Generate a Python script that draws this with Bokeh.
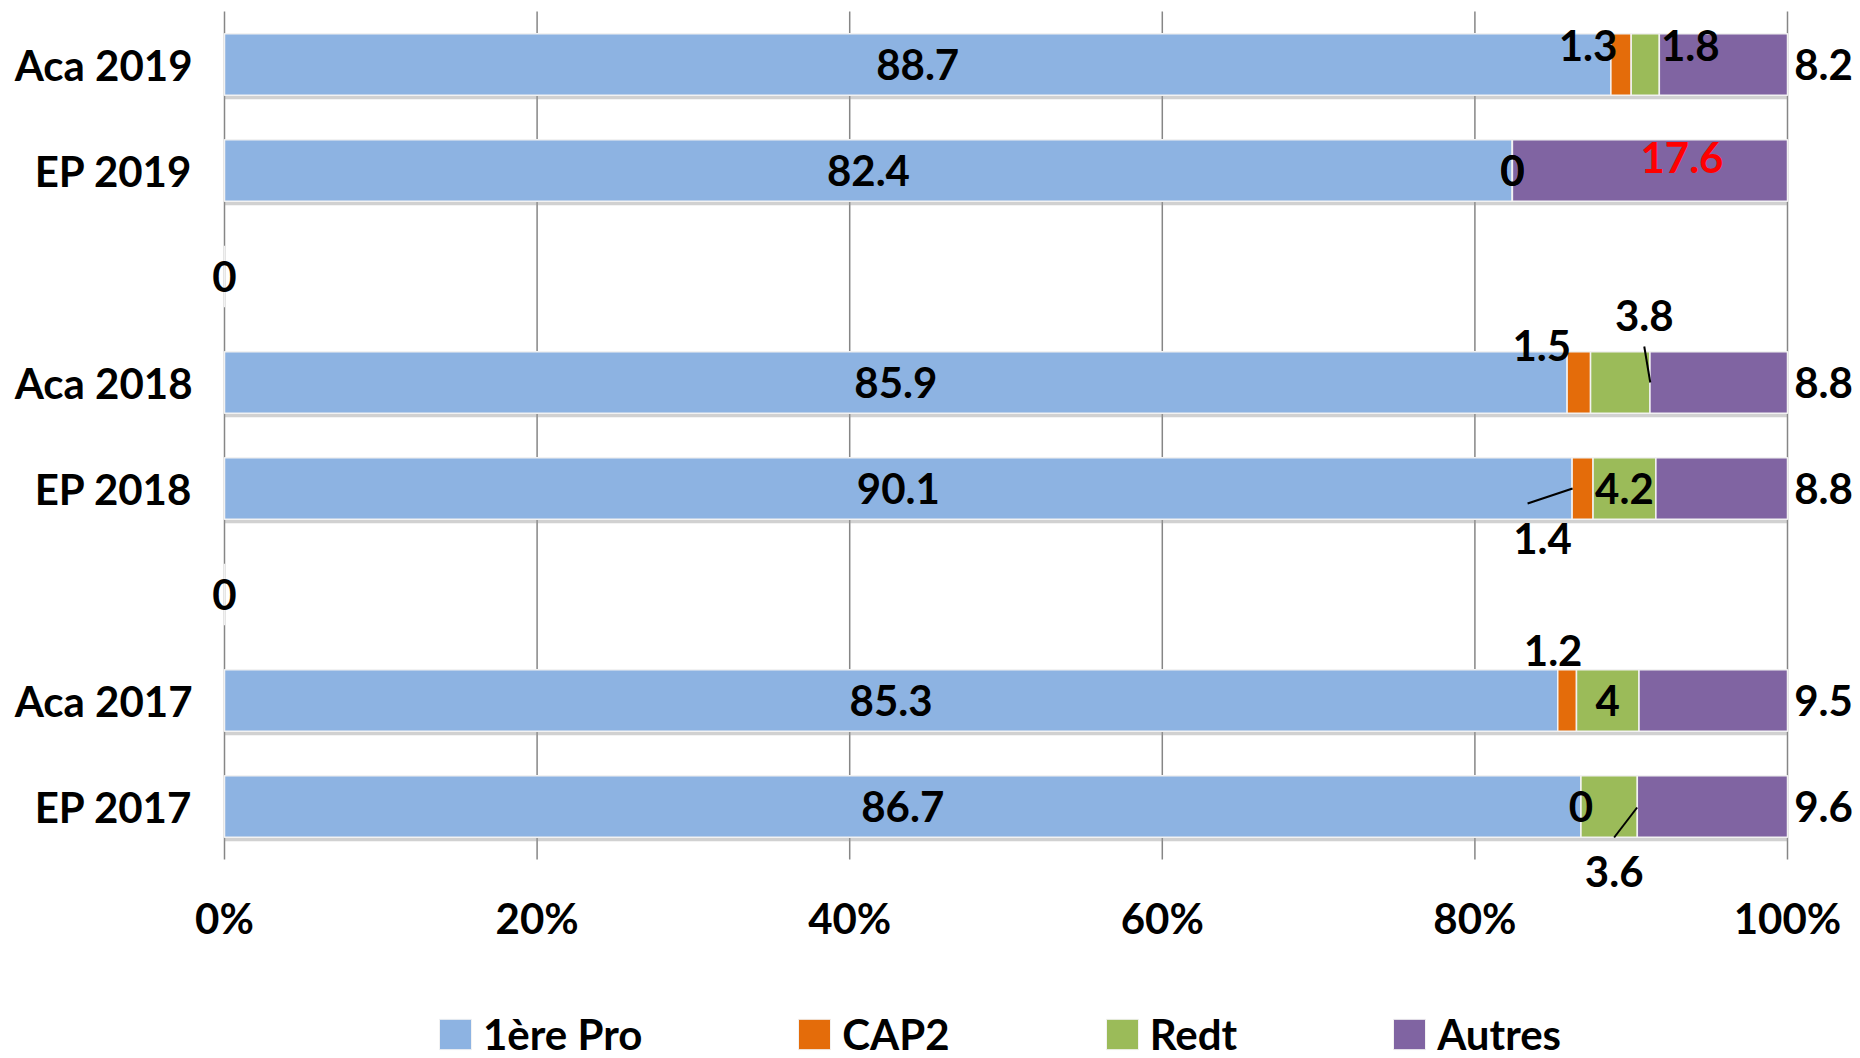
from bokeh.plotting import figure
from bokeh.models import (ColumnDataSource, Range1d, FixedTicker, PrintfTickFormatter,
                          Legend, LegendItem)
from bokeh.layouts import column
from bokeh.core.properties import value
from bokeh.embed import file_html
from bokeh.resources import INLINE

# ---------------- data (top row first) ----------------
categories = ["Aca 2019", "EP 2019", "", "Aca 2018", "EP 2018", "", "Aca 2017", "EP 2017"]
pro    = [88.7, 82.4, 0.0, 85.9, 90.1, 0.0, 85.3, 86.7]
cap2   = [1.3, 0.0, None, 1.5, 1.4, None, 1.2, 0.0]
redt   = [1.8, 0.0, None, 3.8, 4.2, None, 4.0, 3.6]
autres = [8.2, 17.6, None, 8.8, 8.8, None, 9.5, 9.6]
series_names = ["1ère Pro", "CAP2", "Redt", "Autres"]
x_ticks = [0, 20, 40, 60, 80, 100]

# ---------------- style / layout ----------------
colors = ["#8DB3E2", "#E46C0A", "#9BBB59", "#8064A2"]
FONT = "Lato"
FS = "42px"
W = 1860
H1, H2 = 948, 110
FRAME_L, FRAME_T, FRAME_B = 200, 0, 888          # frame edges in page pixels
X0_PX, X100_PX = 224, 1787                       # where 0% and 100% sit
PLOT_TOP, PLOT_BOT = 11, 859                     # extent of the category band
LEGEND_X, LEGEND_Y = 435, -1                     # legend bottom-left (page x, strip-bottom y)
n = len(categories)
PX_X = (X100_PX - X0_PX) / 100.0
PX_Y = (PLOT_BOT - PLOT_TOP) / n
BAR_H = 0.58

# label offsets in pixels: (series index, row index) -> (dx, dy) ; dy positive = down
label_offsets = {
    (1, 0): (-33, -19), (2, 0): (45, -19),
    (3, 1): (32, -13),
    (1, 3): (-37, -37), (2, 3): (24, -67),
    (1, 4): (-40, 50),
    (1, 6): (-14, -50),
    (2, 7): (5, 65),
}
# leader lines: (series, row) -> ((dx0, dy0), (dx1, dy1)) relative to segment centre
leaders = {
    (2, 3): ((24, -36), (30, 0)),
    (1, 4): ((-55, 15), (-10, 0)),
    (2, 7): ((5, 31), (28, 1)),
}
OUTSIDE_DX = 36   # Autres labels placed right of the 100% end
red_labels = {(3, 1)}

series = [pro, cap2, redt, autres]
ys = [n - 1 - i for i in range(n)]
totals = [sum(s[i] or 0 for s in series) for i in range(n)]

x_start = -(X0_PX - FRAME_L) / PX_X
x_end = 100 + (W - X100_PX) / PX_X
y_end = (n - 0.5) + (PLOT_TOP - FRAME_T) / PX_Y
y_start = -0.5 - (FRAME_B - PLOT_BOT) / PX_Y

p = figure(width=W, height=H1, output_backend="svg", toolbar_location=None,
           x_range=Range1d(x_start, x_end), y_range=Range1d(y_start, y_end),
           min_border_left=FRAME_L, min_border_right=0, min_border_top=FRAME_T,
           min_border_bottom=H1 - FRAME_B)
p.outline_line_color = None
p.background_fill_color = "white"
p.border_fill_color = "white"
p.xgrid.grid_line_color = None
p.ygrid.grid_line_color = None

# vertical gridlines limited to the category band
p.segment(x0=x_ticks, y0=-0.5, x1=x_ticks, y1=n - 0.5, line_color="#868686", line_width=1.5)

# shadows
sh_y, sh_r = [], []
for i in range(n):
    if totals[i] > 0:
        sh_y.append(ys[i] - 4.0 / PX_Y)
        sh_r.append(100.0)
p.hbar(y=sh_y, left=0, right=sh_r, height=BAR_H, fill_color="#9a9a9a", fill_alpha=0.45,
       line_color=None)

lab_x, lab_y, lab_t, lab_dx, lab_dy, lab_c = [], [], [], [], [], []
seg_x0, seg_y0, seg_x1, seg_y1 = [], [], [], []
left = [0.0] * n
for k, s in enumerate(series):
    lefts, rights, yy = [], [], []
    for i in range(n):
        v = s[i]
        if v is None:
            continue
        w = v / totals[i] * 100.0 if totals[i] > 0 else 0.0
        l0 = left[i]
        r0 = l0 + w
        left[i] = r0
        lefts.append(l0); rights.append(r0); yy.append(ys[i])
        cx = (l0 + r0) / 2.0
        if k == 3 and (k, i) not in label_offsets:
            ax, dx, dy = r0, OUTSIDE_DX, 0
        else:
            ax = cx
            dx, dy = label_offsets.get((k, i), (0, 0))
        lab_x.append(ax); lab_y.append(ys[i]); lab_t.append(f"{v:g}")
        lab_dx.append(dx); lab_dy.append(dy)
        lab_c.append("#FF0000" if (k, i) in red_labels else "black")
        if (k, i) in leaders:
            (a0, b0), (a1, b1) = leaders[(k, i)]
            seg_x0.append(cx + a0 / PX_X); seg_y0.append(ys[i] - b0 / PX_Y)
            seg_x1.append(cx + a1 / PX_X); seg_y1.append(ys[i] - b1 / PX_Y)
    p.hbar(y=yy, left=lefts, right=rights, height=BAR_H, fill_color=colors[k],
           line_color="#F2F2F2", line_width=1.5)

p.segment(x0=seg_x0, y0=seg_y0, x1=seg_x1, y1=seg_y1, line_color="black", line_width=2)

src = ColumnDataSource(dict(x=lab_x, y=lab_y, t=lab_t, dx=lab_dx, dy=lab_dy, c=lab_c))
p.text(x="x", y="y", text="t", x_offset="dx", y_offset="dy", text_color="c", source=src,
       text_font=value(FONT), text_font_style="bold", text_font_size=FS,
       text_align="center", text_baseline="middle")

# axes
p.xaxis.ticker = FixedTicker(ticks=x_ticks)
p.xaxis.formatter = PrintfTickFormatter(format="%d%%")
p.yaxis.ticker = FixedTicker(ticks=ys)
p.yaxis.major_label_overrides = {ys[i]: categories[i] for i in range(n)}
for ax in (p.xaxis, p.yaxis):
    ax.axis_line_color = None
    ax.major_tick_line_color = None
    ax.minor_tick_line_color = None
    ax.major_tick_out = 0
    ax.major_tick_in = 0
    ax.minor_tick_out = 0
    ax.major_label_text_font = FONT
    ax.major_label_text_font_style = "bold"
    ax.major_label_text_font_size = FS
    ax.major_label_text_color = "black"
p.xaxis.major_label_standoff = 4
p.yaxis.major_label_standoff = 8

# ---------------- legend strip ----------------
q = figure(width=W, height=H2, output_backend="svg", toolbar_location=None,
           x_range=Range1d(0, 1), y_range=Range1d(0, 1),
           min_border_left=FRAME_L, min_border_right=0, min_border_top=0, min_border_bottom=0)
q.axis.visible = False
q.xgrid.grid_line_color = None
q.ygrid.grid_line_color = None
q.outline_line_color = None
q.background_fill_color = "white"
q.border_fill_color = "white"
# legend-only renderers: one bar each, placed outside the strip's visible range
dummies = [q.hbar(y=[-10], left=[0], right=[1], height=0.5, fill_color=colors[k],
                  line_color="#F2F2F2", line_width=1) for k in range(4)]
legend = Legend(items=[LegendItem(label=series_names[k], renderers=[dummies[k]]) for k in range(4)],
                orientation="horizontal", location=(LEGEND_X - FRAME_L, LEGEND_Y),
                border_line_color=None, background_fill_alpha=0,
                label_text_font=FONT, label_text_font_style="bold", label_text_font_size=FS,
                label_text_color="black",
                glyph_width=40, glyph_height=38, label_standoff=8, spacing=152,
                padding=0, margin=0)
q.add_layout(legend)

layout = column(p, q, spacing=0)
open("out.html", "w").write(file_html(layout, INLINE))
